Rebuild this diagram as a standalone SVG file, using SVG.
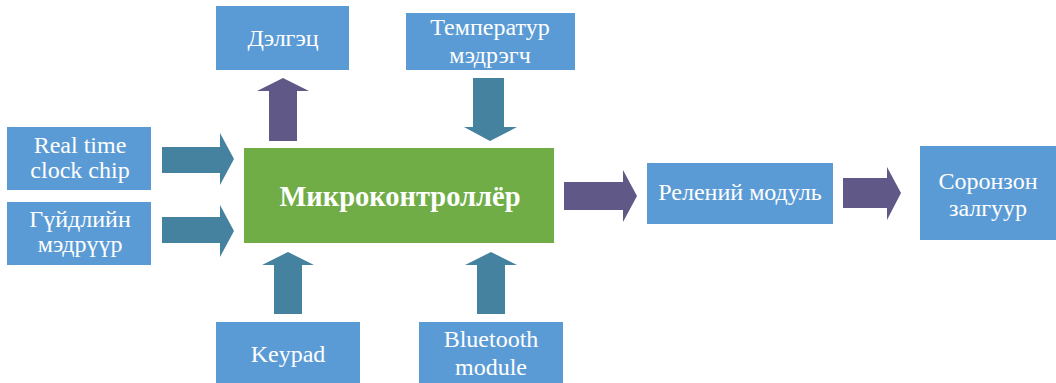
<svg xmlns="http://www.w3.org/2000/svg" width="1056" height="383" viewBox="0 0 1056 383">
  <style>
    .box { fill: #5B9BD5; }
    .mcu { fill: #70AD47; }
    .label { fill: #FFFFFF; font-family: 'Liberation Serif', 'DejaVu Serif', serif; font-size: 24px; text-anchor: middle; }
    .title { fill: #FFFFFF; font-family: 'Liberation Serif', 'DejaVu Serif', serif; font-size: 28.5px; font-weight: bold; text-anchor: middle; }
    .teal { fill: #44829F; }
    .purple { fill: #605886; }
  </style>
  <rect width="1056" height="383" fill="#FFFFFF"/>

  <!-- block arrows between modules -->
  <g id="connectors">
    <!-- inputs from the left -->
    <polygon class="teal" points="162,147 220,147 220,133 234,159 220,185 220,173 162,173"/>
    <polygon class="teal" points="162,217 220,217 220,205 234,231 220,257 220,243 162,243"/>
    <!-- output to display -->
    <polygon class="purple" points="269,141 269,91 257,91 283,78 309,91 297,91 297,141"/>
    <!-- input from temperature sensor -->
    <polygon class="teal" points="473,78 504,78 504,127 517,127 490,141 464,127 473,127"/>
    <!-- inputs from below -->
    <polygon class="teal" points="274,314 274,265 262,265 288,252 314,265 302,265 302,314"/>
    <polygon class="teal" points="477,314 477,265 465,265 491,252 517,265 505,265 505,314"/>
    <!-- outputs to the right -->
    <polygon class="purple" points="564,182 623,182 623,170 637,196 623,222 623,210 564,210"/>
    <polygon class="purple" points="843,178 887,178 887,167 901,193 887,220 887,208 843,208"/>
  </g>

  <g id="rtc">
    <rect class="box" x="7" y="127" width="144" height="63"/>
    <text class="label" x="80" y="153">Real time</text>
    <text class="label" x="80" y="178">clock chip</text>
  </g>

  <g id="current-sensor">
    <rect class="box" x="7" y="202" width="144" height="63"/>
    <text class="label" x="80" y="227">Гүйдлийн</text>
    <text class="label" x="80" y="252">мэдрүүр</text>
  </g>

  <g id="display">
    <rect class="box" x="216" y="6" width="133" height="64"/>
    <text class="label" x="283" y="46">Дэлгэц</text>
  </g>

  <g id="temp-sensor">
    <rect class="box" x="406" y="13" width="169" height="57"/>
    <text class="label" x="490" y="35">Температур</text>
    <text class="label" x="490" y="63">мэдрэгч</text>
  </g>

  <g id="mcu">
    <rect class="mcu" x="244" y="148" width="310" height="95"/>
    <text class="title" x="400" y="206">Микроконтроллёр</text>
  </g>

  <g id="keypad">
    <rect class="box" x="216" y="322" width="144" height="61"/>
    <text class="label" x="288" y="362">Keypad</text>
  </g>

  <g id="bluetooth">
    <rect class="box" x="419" y="322" width="144" height="61"/>
    <text class="label" x="491" y="347">Bluetooth</text>
    <text class="label" x="491" y="375">module</text>
  </g>

  <g id="relay">
    <rect class="box" x="647" y="163" width="186" height="61"/>
    <text class="label" x="740" y="200">Релений модуль</text>
  </g>

  <g id="magnetic-switch">
    <rect class="box" x="920" y="146" width="136" height="94"/>
    <text class="label" x="988" y="189">Соронзон</text>
    <text class="label" x="988" y="216">залгуур</text>
  </g>
</svg>
